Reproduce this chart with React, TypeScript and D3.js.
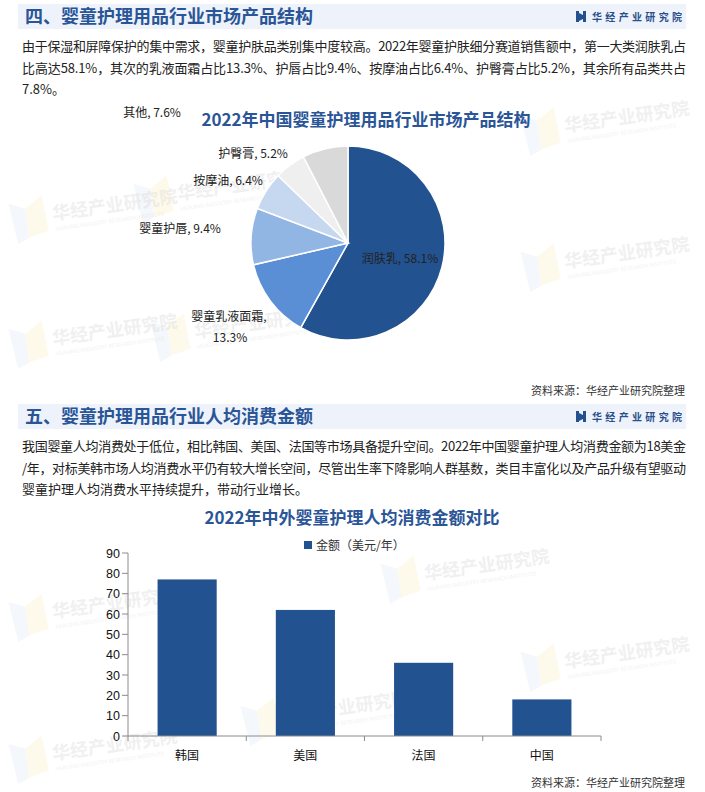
import React, { useEffect } from "react";
import * as d3 from "d3";

// ---------- data ----------
const pieCategories = ["润肤乳", "婴童乳液面霜", "婴童护唇", "按摩油", "护臀膏", "其他"];
const pieValues = [58.1, 13.3, 9.4, 6.4, 5.2, 7.6];
const pieColors = ["#22528f", "#5b8fd5", "#91b6e3", "#c6d8f0", "#efefef", "#d9d9d9"];

const barCategories = ["韩国", "美国", "法国", "中国"];
const barValues = [77, 62, 36, 18];
const yTicks = [0, 10, 20, 30, 40, 50, 60, 70, 80, 90];
const legendLabel = "金额（美元/年）";

const section1Title = "四、婴童护理用品行业市场产品结构";
const section2Title = "五、婴童护理用品行业人均消费金额";
const para1 = [
  "由于保湿和屏障保护的集中需求，婴童护肤品类别集中度较高。2022年婴童护肤细分赛道销售额中，第一大类润肤乳占",
  "比高达58.1%，其次的乳液面霜占比13.3%、护唇占比9.4%、按摩油占比6.4%、护臀膏占比5.2%，其余所有品类共占",
  "7.8%。",
];
const para2 = [
  "我国婴童人均消费处于低位，相比韩国、美国、法国等市场具备提升空间。2022年中国婴童护理人均消费金额为18美金",
  "/年，对标美韩市场人均消费水平仍有较大增长空间，尽管出生率下降影响人群基数，类目丰富化以及产品升级有望驱动",
  "婴童护理人均消费水平持续提升，带动行业增长。",
];
const pieTitle = "2022年中国婴童护理用品行业市场产品结构";
const barTitle = "2022年中外婴童护理人均消费金额对比";
const sourceText = "资料来源：华经产业研究院整理";
const brand = "华经产业研究院";

// ---------- layout ----------
const W = 705;
const H = 792;
const CJK = "'Noto Sans CJK SC', 'Noto Sans', sans-serif";
const TITLE_BLUE = "#2a5597";

const pieCx = 348;
const pieCy = 243;
const pieR = 97;
// label offsets (text centre / baseline) relative to the pie centre
const pieLabelOffsets: [number, number][][] = [
  [[52, 20]],
  [[-119, 78], [-118, 99]],
  [[-168, -10]],
  [[-120, -58]],
  [[-95, -85]],
  [[-196, -126]],
];

const barLeft = 128;
const barRight = 601;
const barTop = 553;
const barBottom = 736;

const watermarks: [number, number][] = [
  [520, 112], [133, 180], [520, 248], [150, 318], [8, 200], [8, 325],
  [380, 560], [520, 648], [240, 702], [8, 598], [8, 740],
];

function Watermark({ x, y }: { x: number; y: number }) {
  return (
    <g transform={`translate(${x},${y}) rotate(-8)`} opacity={0.3}>
      <polygon points="0,4 16,11 16,40 4,45" fill="#dce6f4" />
      <polygon points="16,11 34,0 36,36 16,40" fill="#fdf0c0" />
      <text x={42} y={26} fontFamily={CJK} fontWeight={700} fontSize={18} fill="#d0d0d0">
        {brand}
      </text>
      <text x={43} y={37} fontFamily="Lato, sans-serif" fontSize={5.5} fill="#d4d4d4">
        HUAJING INDUSTRY RESEARCH INSTITUTE
      </text>
    </g>
  );
}

function Header({ y, title }: { y: number; title: string }) {
  return (
    <g>
      <rect x={18} y={y} width={668} height={25} fill="#eef3fb" />
      <text x={25} y={y + 19} fontFamily={CJK} fontWeight={700} fontSize={18} fill={TITLE_BLUE}>
        {title}
      </text>
      <g transform={`translate(576,${y + 7})`}>
        <rect x={0} y={0} width={3} height={11} fill="#24508f" />
        <polygon points="3,2 7,4 7,8 3,10" fill="#24508f" />
        <rect x={7} y={0} width={3} height={11} fill="#24508f" />
      </g>
      <text
        x={592}
        y={y + 16.5}
        fontFamily={CJK}
        fontWeight={700}
        fontSize={10}
        fill="#2a4f8a"
        textLength={90}
        lengthAdjust="spacing"
      >
        {brand}
      </text>
    </g>
  );
}

function Paragraph({ lines, y0 }: { lines: string[]; y0: number }) {
  return (
    <g>
      {lines.map((l, i) => (
        <text
          key={i}
          x={22}
          y={y0 + i * 21.5}
          fontFamily={CJK}
          fontSize={13}
          fill="#222"
          {...(i < lines.length - 1 ? { textLength: 664, lengthAdjust: "spacing" } : {})}
        >
          {l}
        </text>
      ))}
    </g>
  );
}

export default function App() {
  useEffect(() => {
    document.body.style.margin = "0";
  }, []);

  const pie = d3
    .pie<number>()
    .sort(null)
    .value((d) => d)(pieValues);
  const arc = d3.arc<d3.PieArcDatum<number>>().innerRadius(0).outerRadius(pieR);

  const x = d3
    .scaleBand<string>()
    .domain(barCategories)
    .range([barLeft, barRight])
    .paddingInner(0.5)
    .paddingOuter(0.25);
  const y = d3.scaleLinear().domain([0, 90]).range([barBottom, barTop]);
  const boundaries = d3
    .range(barCategories.length + 1)
    .map((i) => barLeft + (i * (barRight - barLeft)) / barCategories.length);

  return (
    <svg width={W} height={H} style={{ display: "block", background: "#fff" }}>
      <rect width={W} height={H} fill="#fff" />
      {watermarks.map(([wx, wy], i) => (
        <Watermark key={i} x={wx} y={wy} />
      ))}

      {/* Section 1 */}
      <Header y={4} title={section1Title} />
      <Paragraph lines={para1} y0={51} />

      <text x={366} y={126} textAnchor="middle" fontFamily={CJK} fontWeight={700} fontSize={17} fill={TITLE_BLUE}>
        {pieTitle}
      </text>
      <g transform={`translate(${pieCx},${pieCy})`}>
        {pie.map((p, i) => (
          <path key={i} d={arc(p) || ""} fill={pieColors[i]} stroke="#fff" strokeWidth={1.5} />
        ))}
        {pie.map((p, i) => {
          const offs = pieLabelOffsets[i];
          const full = `${pieCategories[i]}, ${pieValues[i].toFixed(1)}%`;
          const parts = offs.length > 1 ? [`${pieCategories[i]},`, `${pieValues[i].toFixed(1)}%`] : [full];
          return parts.map((t, j) => (
            <text
              key={`${i}-${j}`}
              x={offs[j][0]}
              y={offs[j][1]}
              textAnchor="middle"
              fontFamily={CJK}
              fontSize={12}
              fill="#222"
            >
              {t}
            </text>
          ));
        })}
      </g>
      <text x={685} y={395} textAnchor="end" fontFamily={CJK} fontSize={11} fill="#333">
        {sourceText}
      </text>

      {/* Section 2 */}
      <Header y={404} title={section2Title} />
      <Paragraph lines={para2} y0={451} />

      <text x={352} y={524} textAnchor="middle" fontFamily={CJK} fontWeight={700} fontSize={17} fill={TITLE_BLUE}>
        {barTitle}
      </text>
      <rect x={304} y={541} width={8} height={8} fill="#22528f" />
      <text x={316} y={550} fontFamily={CJK} fontSize={12} fill="#333">
        {legendLabel}
      </text>

      {barCategories.map((c, i) => (
        <rect
          key={c}
          x={x(c)}
          y={y(barValues[i])}
          width={x.bandwidth()}
          height={barBottom - y(barValues[i])}
          fill="#22528f"
        />
      ))}
      {/* y axis */}
      <line x1={barLeft} x2={barLeft} y1={barTop} y2={barBottom} stroke="#8c8c8c" />
      {yTicks.map((t) => (
        <g key={t}>
          <line x1={barLeft - 6} x2={barLeft} y1={y(t)} y2={y(t)} stroke="#8c8c8c" />
          <text
            x={barLeft - 8}
            y={y(t) + 4.5}
            textAnchor="end"
            fontFamily="'Liberation Sans', Arial, sans-serif"
            fontSize={12.5}
            fill="#111"
          >
            {t}
          </text>
        </g>
      ))}
      {/* x axis */}
      <line x1={barLeft} x2={barRight} y1={barBottom} y2={barBottom} stroke="#8c8c8c" />
      {boundaries.map((bx, i) => (
        <line key={i} x1={bx} x2={bx} y1={barBottom} y2={barBottom + 5} stroke="#8c8c8c" />
      ))}
      {barCategories.map((c) => (
        <text
          key={c}
          x={(x(c) || 0) + x.bandwidth() / 2}
          y={760}
          textAnchor="middle"
          fontFamily={CJK}
          fontSize={12}
          fill="#111"
        >
          {c}
        </text>
      ))}
      <text x={685} y={787} textAnchor="end" fontFamily={CJK} fontSize={11} fill="#333">
        {sourceText}
      </text>
    </svg>
  );
}
